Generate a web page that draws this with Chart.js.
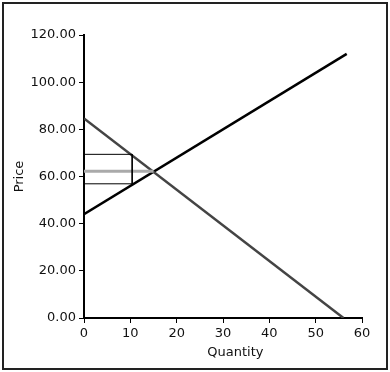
<!DOCTYPE html>
<html>
<head>
<meta charset="utf-8">
<script src="https://cdn.jsdelivr.net/npm/chart.js@4/dist/chart.umd.min.js"></script>
<style>
  body { margin: 0; background: #fff; }
  #wrap { position: relative; width: 390px; height: 372px; }
  #frame { position: absolute; left: 2px; top: 2px; width: 382px; height: 364px; border: 2px solid #222; pointer-events: none; }
  canvas { position: absolute; left: 0; top: 0; }
</style>
</head>
<body>
<div id="wrap">
  <canvas id="c" width="390" height="372"></canvas>
  <div id="frame"></div>
</div>
<script>
// supply and demand
var supplyQ = [0, 56.7];
var supplyP = [44, 112];
var demandQ = [0, 56];
var demandP = [84.6, 0];
// price line to the equilibrium
var priceQ = [0, 15];
var priceP = [62.2, 62.2];
// quota box
var boxQ = [0, 10.4, 10.4, 0];
var boxP = [69.4, 69.4, 56.9, 56.9];

function pts(xs, ys){
  var out = [];
  for (var i = 0; i < xs.length; i++) out.push({x: xs[i], y: ys[i]});
  return out;
}

var font = {family: 'DejaVu Sans', size: 13};

new Chart(document.getElementById('c'), {
  type: 'scatter',
  data: {
    datasets: [
      {data: pts(boxQ, boxP), showLine: true, borderColor: '#000', borderWidth: 1, pointRadius: 0},
      {data: pts(priceQ, priceP), showLine: true, borderColor: '#aaa', borderWidth: 3, pointRadius: 0},
      {data: pts(demandQ, demandP), showLine: true, borderColor: '#444', borderWidth: 2.5, pointRadius: 0},
      {data: pts(supplyQ, supplyP), showLine: true, borderColor: '#000', borderWidth: 2.5, pointRadius: 0}
    ]
  },
  options: {
    responsive: false,
    animation: false,
    layout: {padding: {left: 0, right: 28, top: 35, bottom: 0}},
    plugins: {legend: {display: false}, tooltip: {enabled: false}},
    scales: {
      x: {
        type: 'linear', min: 0, max: 60,
        afterFit: function(s){ s.height = 54; },
        border: {display: true, color: '#000', width: 2},
        grid: {drawOnChartArea: false, drawTicks: true, tickLength: 5, color: '#000'},
        ticks: {stepSize: 10, color: '#111', font: font, padding: 3},
        title: {display: true, text: '      Quantity', color: '#111', font: font, padding: {top: 0, bottom: 12}}
      },
      y: {
        type: 'linear', min: 0, max: 120,
        afterFit: function(s){ s.width = 84; },
        border: {display: true, color: '#000', width: 2},
        grid: {drawOnChartArea: false, drawTicks: true, tickLength: 5, color: '#000'},
        ticks: {stepSize: 20, color: '#111', font: font, padding: 3,
          callback: function(v){ return v.toFixed(2); }},
        title: {display: true, text: 'Price', color: '#111', font: font, padding: {top: 12, bottom: 0}}
      }
    }
  }
});
</script>
</body>
</html>
